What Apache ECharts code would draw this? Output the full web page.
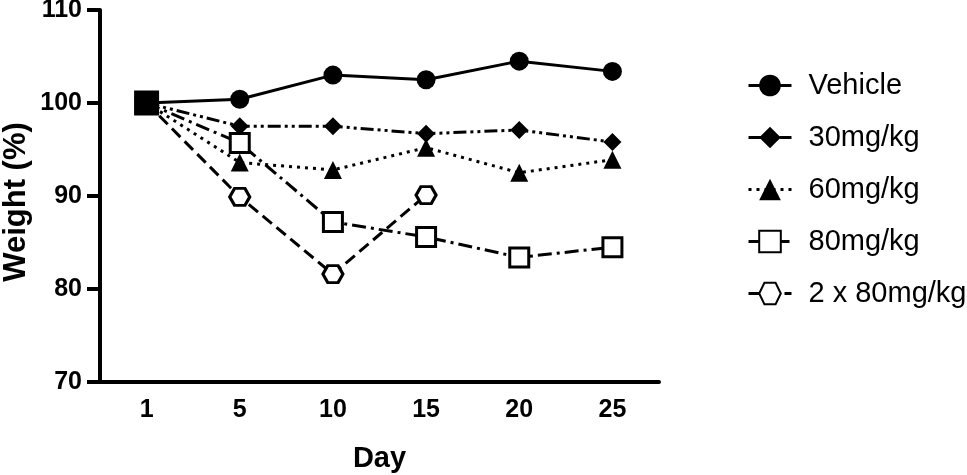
<!DOCTYPE html>
<html>
<head>
<meta charset="utf-8">
<script src="https://cdn.jsdelivr.net/npm/echarts@6/dist/echarts.min.js"></script>
<style>html,body{margin:0;padding:0;background:#fff;}#c{width:967px;height:475px;}</style>
</head>
<body>
<div id="c"></div>
<script>
var days = ['1', '5', '10', '15', '20', '25'];
var yTicks = [70, 80, 90, 100, 110];
var vehicle = [100, 100.4, 103.0, 102.5, 104.5, 103.4];
var mg30 = [100, 97.5, 97.5, 96.7, 97.1, 95.8];
var mg60 = [100, 93.6, 92.8, 95.2, 92.5, 93.9];
var mg80 = [100, 95.7, 87.2, 85.6, 83.4, 84.5];
var mg2x80 = [100, 89.9, 81.6, 90.1, null, null];

var FONT = '"Liberation Sans", Arial, sans-serif';
var hexPath = 'path://M0,5 L2.9,0 L9.1,0 L12,5 L9.1,10 L2.9,10 Z';

function mk(name, data, symbol, size, dash, hollow, z, firstFilled) {
  var d = data.map(function (v, i) {
    if (i === 0 && firstFilled) {
      return { value: v, symbolSize: 22, itemStyle: { color: '#000' } };
    }
    return v;
  });
  return {
    name: name,
    type: 'line',
    data: d,
    z: z,
    symbol: symbol,
    symbolSize: size,
    showAllSymbol: true,
    connectNulls: false,
    lineStyle: { color: '#000', width: 3, type: dash, cap: 'butt' },
    itemStyle: hollow ? { color: '#fff', borderColor: '#000', borderWidth: 3 } : { color: '#000', borderColor: '#000', borderWidth: 0 },
    emphasis: { disabled: true },
    animation: false
  };
}

var chart = echarts.init(document.getElementById('c'));
chart.setOption({
  backgroundColor: '#fff',
  animation: false,
  grid: { left: 100, right: 308, top: 10, bottom: 93, containLabel: false, outerBoundsMode: 'none' },
  legend: {
    orient: 'vertical',
    left: 742,
    top: 66,
    padding: 5,
    itemWidth: 43,
    itemHeight: 27,
    itemGap: 23,
    lineStyle: { width: 3 },
    textStyle: { fontFamily: FONT, fontSize: 29, color: '#000', padding: [0, 0, 0, 12] },
    data: ['Vehicle', '30mg/kg', '60mg/kg', '80mg/kg', '2 x 80mg/kg']
  },
  xAxis: {
    type: 'category',
    data: days,
    boundaryGap: true,
    name: 'Day',
    nameLocation: 'middle',
    nameGap: 62,
    nameMoveOverlap: false,
    nameTextStyle: { fontFamily: FONT, fontSize: 29, fontWeight: 'bold', color: '#000' },
    axisLine: { lineStyle: { color: '#000', width: 4 } },
    axisTick: { alignWithLabel: true, length: 14, lineStyle: { color: '#000', width: 4 } },
    axisLabel: { fontFamily: FONT, fontSize: 25, fontWeight: 'bold', color: '#000', margin: 16 },
    splitLine: { show: false }
  },
  yAxis: {
    type: 'value',
    min: yTicks[0],
    max: yTicks[yTicks.length - 1],
    interval: 10,
    name: 'Weight (%)',
    nameLocation: 'middle',
    nameGap: 68,
    nameMoveOverlap: false,
    nameTextStyle: { fontFamily: FONT, fontSize: 31, fontWeight: 'bold', color: '#000', padding: [0, 12, 0, 0] },
    axisLine: { show: true, lineStyle: { color: '#000', width: 4 } },
    axisTick: { show: true, length: 13, lineStyle: { color: '#000', width: 4 } },
    axisLabel: { fontFamily: FONT, fontSize: 25, fontWeight: 'bold', color: '#000', margin: 18 },
    splitLine: { show: false }
  },
  series: [
    mk('Vehicle', vehicle, 'circle', 19, 'solid', false, 2, false),
    mk('30mg/kg', mg30, 'diamond', 18, [13, 4, 3, 4, 3, 4], false, 2, false),
    mk('60mg/kg', mg60, 'triangle', 18, [3, 5], false, 2, false),
    mk('2 x 80mg/kg', mg2x80, hexPath, [20, 17], [12, 6], true, 2, false),
    mk('80mg/kg', mg80, 'rect', 19, [14, 5, 3, 5], true, 3, true)
  ]
});
</script>
</body>
</html>
